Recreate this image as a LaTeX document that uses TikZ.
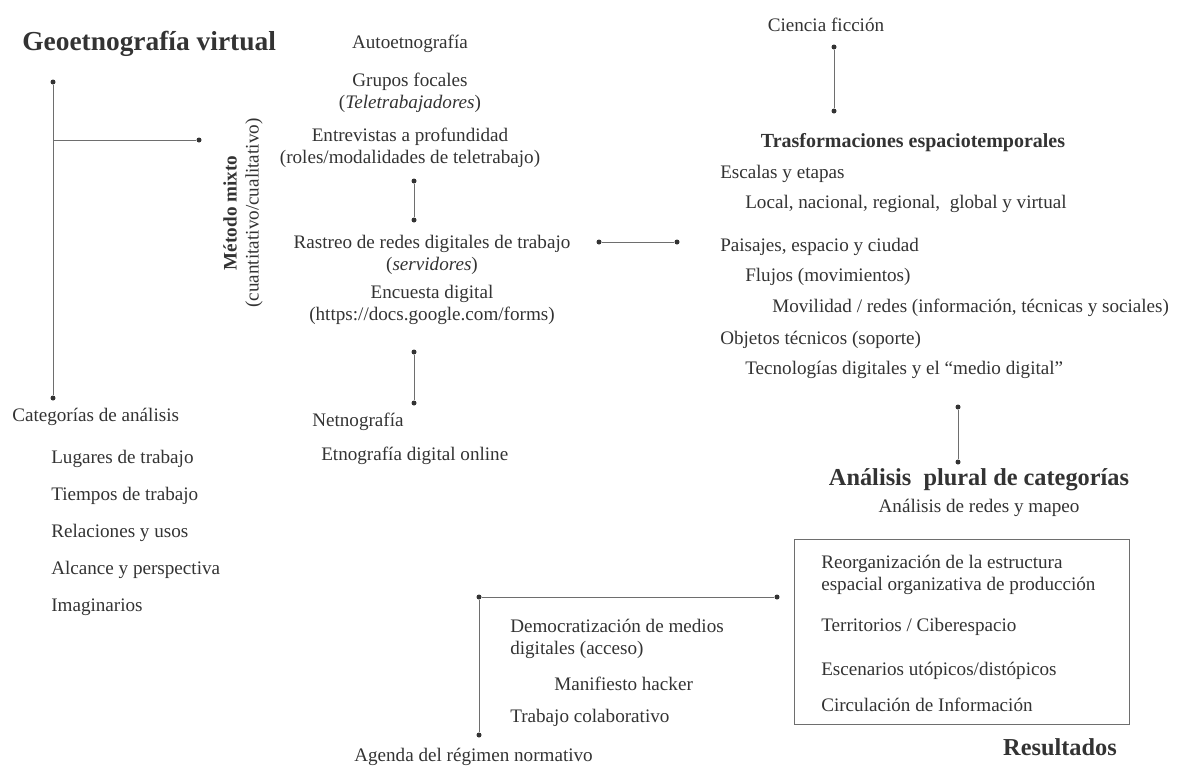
\documentclass[tikz,border=0pt]{standalone}
\usepackage{fontspec}
\setmainfont{Liberation Serif}
\usepackage{xcolor}
\usepackage{tikz}
\usetikzlibrary{positioning}

\definecolor{tinta}{HTML}{333333}
\definecolor{trazo}{HTML}{6E6E6E}

\begin{document}
\begin{tikzpicture}[
    x=0.025cm, y=-0.025cm,
    texto/.style={font=\fontsize{13.6}{15.8}\selectfont, text=tinta, inner sep=0pt},
    texto izq/.style={texto, anchor=west, align=left},
    texto centro/.style={texto, align=center},
    titulo/.style={font=\fontsize{19.5}{22}\selectfont\bfseries, text=tinta, inner sep=0pt},
    titulo medio/.style={font=\fontsize{17.3}{20}\selectfont\bfseries, text=tinta, inner sep=0pt},
    subtitulo/.style={font=\fontsize{14.2}{16}\selectfont\bfseries, text=tinta, inner sep=0pt},
    punto/.style={circle, fill=tinta, inner sep=0pt, minimum size=0.125cm},
    enlace/.style={draw=trazo, line width=0.6pt}
]
    \useasboundingbox (0,0) rectangle (1182,771);

    % Columna izquierda
    \node[titulo, anchor=west] (geo) at (22,44) {Geoetnografía virtual};
    \node[punto] (p1) at (53,82) {};
    \node[punto] (p2) at (53,398) {};
    \coordinate (ramal) at (53,140);
    \node[punto] (p3) at (199,140) {};
    \node[texto centro, rotate=90] (metodo) at (243,213)
        {\textbf{Método mixto}\\(cuantitativo/cualitativo)};

    \node[texto izq] (cat) at (12,417) {Categorías de análisis};
    \node[texto izq] (lugares)  at (51,459) {Lugares de trabajo};
    \node[texto izq] (tiempos)  at (51,496) {Tiempos de trabajo};
    \node[texto izq] (relacion) at (51,533) {Relaciones y usos};
    \node[texto izq] (alcance)  at (51,570) {Alcance y perspectiva};
    \node[texto izq] (imag)     at (51,607) {Imaginarios};

    % Columna central
    \node[texto centro] (auto) at (410,44) {Autoetnografía};
    \node[texto centro] (grupos) at (410,93) {Grupos focales\\(\textit{Teletrabajadores})};
    \node[texto centro] (entrev) at (410,148) {Entrevistas a profundidad\\(roles/modalidades de teletrabajo)};
    \node[punto] (p4) at (414,181) {};
    \node[punto] (p5) at (414,220) {};
    \node[texto centro] (rastreo) at (432,255) {Rastreo de redes digitales de trabajo\\(\textit{servidores})};
    \node[texto centro] (encuesta) at (432,305) {Encuesta digital\\(https://docs.google.com/forms)};
    \node[punto] (p6) at (414,352) {};
    \node[punto] (p7) at (414,403) {};
    \node[texto izq] (netno) at (312,422) {Netnografía};
    \node[texto izq] (etno) at (321,456) {Etnografía digital online};
    \node[punto] (p8) at (599,242) {};
    \node[punto] (p9) at (677,242) {};

    % Columna derecha
    \node[texto centro] (ciencia) at (826,25) {Ciencia ficción};
    \node[punto] (p10) at (834,47) {};
    \node[punto] (p11) at (834,111) {};
    \node[subtitulo] (trasf) at (913,143) {Trasformaciones espaciotemporales};
    \node[texto izq] (escalas)   at (720,174) {Escalas y etapas};
    \node[texto izq] (local)     at (745,204) {Local, nacional, regional,~~global y virtual};
    \node[texto izq] (paisajes)  at (720,247) {Paisajes, espacio y ciudad};
    \node[texto izq] (flujos)    at (745,277) {Flujos (movimientos)};
    \node[texto izq] (movil)     at (772,308) {Movilidad / redes (información, técnicas y sociales)};
    \node[texto izq] (objetos)   at (720,340) {Objetos técnicos (soporte)};
    \node[texto izq] (tecno)     at (745,370) {Tecnologías digitales y el “medio digital”};
    \node[punto] (p12) at (958,407) {};
    \node[punto] (p13) at (958,462) {};
    \node[titulo medio] (analisis) at (979,480) {Análisis~~plural de categorías};
    \node[texto centro] (mapeo) at (979,508) {Análisis de redes y mapeo};

    % Resultados
    \draw[draw=trazo, line width=0.7pt] (794,539) rectangle (1129,724);
    \node[texto izq] (reorg) at (821,575) {Reorganización de la estructura\\espacial organizativa de producción};
    \node[texto izq] (territ) at (821,627) {Territorios / Ciberespacio};
    \node[texto izq] (escen)  at (821,671) {Escenarios utópicos/distópicos};
    \node[texto izq] (circ)   at (821,705) {Circulación de Información};
    \node[titulo medio] (result) at (1060,747) {Resultados};

    % Agenda
    \node[punto] (p14) at (479,597) {};
    \node[punto] (p15) at (777,597) {};
    \node[punto] (p16) at (479,735) {};
    \node[texto izq] (democ)  at (510,639) {Democratización de medios\\digitales (acceso)};
    \node[texto izq] (manif)  at (554,684) {Manifiesto hacker};
    \node[texto izq] (colab)  at (510,718) {Trabajo colaborativo};
    \node[texto izq] (agenda) at (354,757) {Agenda del régimen normativo};

    % Enlaces
    \draw[enlace] (p1) -- (p2);
    \draw[enlace] (ramal) -- (p3);
    \draw[enlace] (p4) -- (p5);
    \draw[enlace] (p6) -- (p7);
    \draw[enlace] (p8) -- (p9);
    \draw[enlace] (p10) -- (p11);
    \draw[enlace] (p12) -- (p13);
    \draw[enlace] (p14) -- (p15);
    \draw[enlace] (p14) -- (p16);
\end{tikzpicture}
\end{document}
